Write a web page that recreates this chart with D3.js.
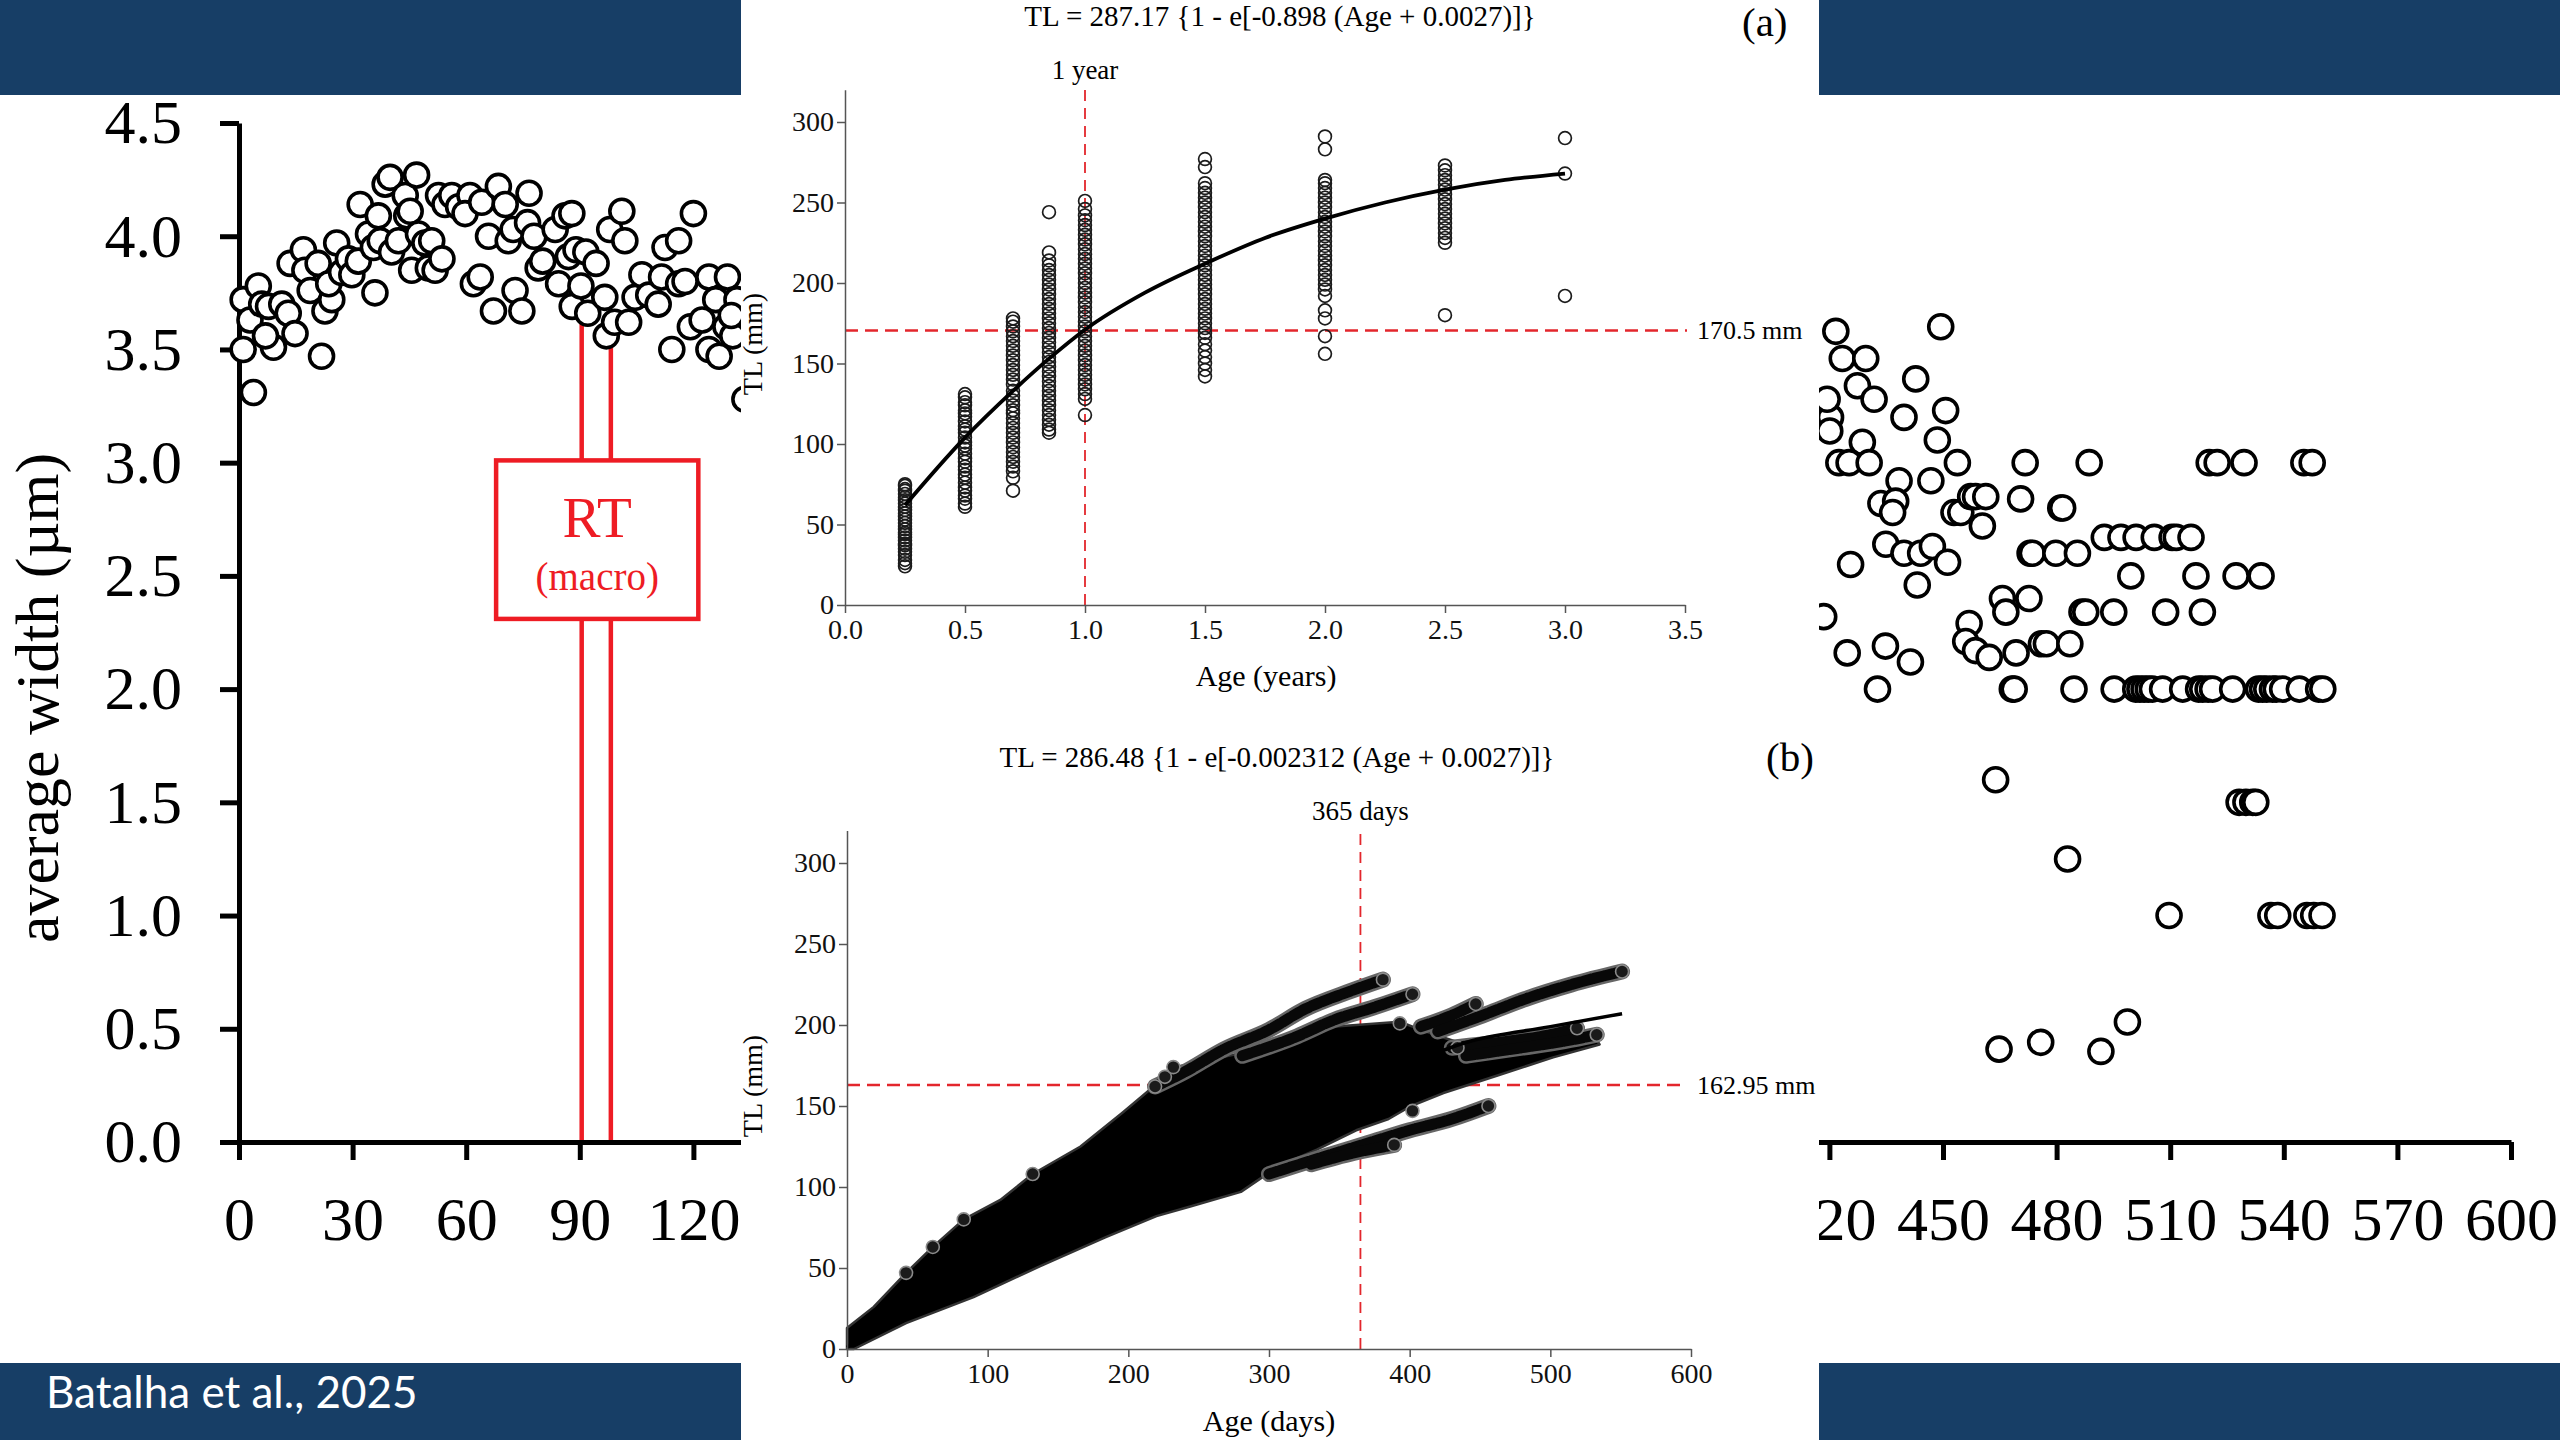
<!DOCTYPE html>
<html lang="en">
<head>
<meta charset="utf-8">
<title>Otolith increment width and growth</title>
<script src="https://cdn.jsdelivr.net/npm/d3@7/dist/d3.min.js"></script>
<style>
  html, body { margin: 0; padding: 0; background: #fff; }
  svg { display: block; }
</style>
</head>
<body>
<div id="chart"></div>
<script>
// ---- background chart: average increment width by age (days)
const widthXTicks = [0, 30, 60, 90, 120, 150, 180, 210, 240, 270, 300, 330, 360, 390, 420, 450, 480, 510, 540, 570, 600]
const widthYTicks = [0, 0.5, 1.0, 1.5, 2.0, 2.5, 3.0, 3.5, 4.0, 4.5]

// [age (days), width (um)] - only the parts left and right of the inset are visible
const widthEarly = [
  [1.1, 3.50], [3.8, 3.31], [1.1, 3.72], [5.1, 3.78], [2.9, 3.63], [6.0, 3.70], [7.8, 3.69], [9.1, 3.51],
  [7.0, 3.56], [11.3, 3.70], [13.0, 3.66], [14.8, 3.57], [13.5, 3.88], [17.0, 3.94], [17.4, 3.85], [18.8, 3.76],
  [20.9, 3.88], [22.7, 3.67], [21.8, 3.47], [24.5, 3.72], [23.7, 3.79], [25.8, 3.97], [27.1, 3.84], [28.9, 3.90],
  [29.8, 3.83], [31.5, 3.89], [32.0, 4.14], [34.2, 4.01], [35.9, 3.75], [35.5, 3.95], [36.8, 4.09], [37.3, 3.98],
  [38.6, 4.23], [39.9, 4.26], [40.3, 3.93], [42.1, 3.98], [43.9, 4.18], [44.3, 4.09], [45.2, 4.11], [46.9, 4.27],
  [45.6, 3.85], [47.4, 4.01], [49.1, 3.97], [50.9, 3.98], [50.0, 3.86], [51.8, 3.85], [53.6, 3.90], [52.7, 4.18],
  [54.4, 4.14], [56.2, 4.18], [58.0, 4.13], [61.0, 4.18], [59.7, 4.10], [61.9, 3.79], [63.7, 3.82], [64.1, 4.15],
  [65.9, 4.00], [67.2, 3.67], [68.5, 4.22], [70.3, 4.14], [71.1, 3.98], [72.4, 4.03], [72.9, 3.76], [74.7, 3.67],
  [76.2, 4.06], [76.6, 4.19], [77.9, 4.00], [79.0, 3.86], [80.2, 3.89], [83.5, 4.03], [84.4, 3.79], [86.1, 4.09],
  [87.9, 4.10], [87.0, 3.91], [89.0, 3.94], [88.0, 3.69], [90.3, 3.78], [91.6, 3.93], [92.1, 3.66], [94.3, 3.88],
  [96.6, 3.73], [97.0, 3.56], [99.2, 3.62], [97.9, 4.03], [101.1, 4.11], [101.9, 3.98], [102.9, 3.62], [104.6, 3.73],
  [106.4, 3.83], [108.2, 3.74], [110.7, 3.70], [111.6, 3.82], [112.5, 3.95], [114.3, 3.50], [116.1, 3.98], [116.1, 3.79],
  [117.8, 3.80], [119.2, 3.60], [120.0, 4.10], [122.3, 3.63], [124.1, 3.82], [124.1, 3.50], [125.9, 3.72], [126.8, 3.47],
  [128.6, 3.60], [129.0, 3.82], [130.4, 3.56], [131.5, 3.72], [130.0, 3.65], [133.6, 3.28]
]

const widthLate = [
  [421.7, 3.58], [423.4, 3.46], [429.6, 3.46], [427.4, 3.34], [431.8, 3.28], [420.3, 3.20], [419.4, 3.28], [420.1, 3.14],
  [428.7, 3.09], [442.8, 3.37], [439.7, 3.20], [449.4, 3.60], [450.7, 3.23], [448.5, 3.10], [422.5, 3.00], [425.2, 3.00],
  [430.5, 3.00], [453.8, 3.00], [471.7, 3.00], [488.6, 3.00], [520.3, 3.00], [522.4, 3.00], [529.5, 3.00], [545.3, 3.00],
  [547.5, 3.00], [438.4, 2.92], [446.8, 2.92], [433.6, 2.82], [437.5, 2.83], [436.7, 2.78], [452.9, 2.78], [454.7, 2.78],
  [457.3, 2.85], [458.6, 2.85], [461.3, 2.85], [470.5, 2.84], [481.1, 2.80], [481.6, 2.80], [460.4, 2.72], [434.9, 2.64],
  [439.7, 2.60], [444.1, 2.60], [447.2, 2.63], [451.2, 2.56], [425.6, 2.55], [443.2, 2.46], [473.0, 2.60], [473.6, 2.60],
  [479.8, 2.60], [485.5, 2.60], [492.6, 2.67], [497.0, 2.67], [501.0, 2.67], [505.8, 2.67], [510.5, 2.67], [511.6, 2.67],
  [515.5, 2.67], [499.6, 2.50], [516.8, 2.50], [527.4, 2.50], [534.0, 2.50], [465.7, 2.40], [472.7, 2.40], [466.6, 2.34],
  [486.7, 2.34], [487.7, 2.34], [495.1, 2.34], [508.8, 2.34], [518.5, 2.34], [418.5, 2.32], [456.9, 2.29], [456.0, 2.21],
  [458.6, 2.17], [462.2, 2.14], [469.3, 2.16], [476.0, 2.20], [477.3, 2.20], [483.5, 2.20], [424.7, 2.16], [434.8, 2.19],
  [441.4, 2.12], [432.7, 2.00], [468.3, 2.00], [468.8, 2.00], [484.6, 2.00], [495.2, 2.00], [500.9, 2.00], [502.0, 2.00],
  [503.1, 2.00], [504.2, 2.00], [505.3, 2.00], [508.0, 2.00], [513.3, 2.00], [517.5, 2.00], [518.6, 2.00], [520.0, 2.00],
  [521.2, 2.00], [526.5, 2.00], [533.3, 2.00], [534.4, 2.00], [535.5, 2.00], [537.0, 2.00], [538.0, 2.00], [539.7, 2.00],
  [544.1, 2.00], [549.2, 2.00], [550.3, 2.00], [463.9, 1.60], [528.2, 1.50], [530.0, 1.50], [531.8, 1.50], [532.6, 1.50],
  [482.9, 1.25], [509.7, 1.00], [536.6, 1.00], [538.4, 1.00], [546.1, 1.00], [547.9, 1.00], [550.1, 1.00], [464.8, 0.41],
  [475.8, 0.44], [491.7, 0.40], [498.7, 0.53]
]

// recruitment transition marks
const rtLines = [{ day: 90.5, top: 3.67 }, { day: 98.2, top: 3.51 }]
const rtBox = { day0: 67.9, day1: 121.3, w0: 2.31, w1: 3.01 }

// ---- inset (a): TL at age (years)
const ageYearTicks = [0, 0.5, 1.0, 1.5, 2.0, 2.5, 3.0, 3.5]
const tlTicks = [0, 50, 100, 150, 200, 250, 300]
const ageGroups = [0.25, 0.5, 0.7, 0.85, 1.0, 1.5, 2.0, 2.5, 3.0]
const tlAge025 = [24, 26, 28, 31, 33, 35, 37, 38, 40, 42, 44, 45, 47, 49, 51, 53, 55, 57, 59, 61, 63, 65, 67, 69, 71, 72, 74, 75]
const tlAge05 = [61, 63, 66, 68, 71, 73, 76, 79, 81, 84, 86, 89, 91, 94, 97, 99, 101, 104, 107, 109, 111, 114, 117, 119, 121, 124, 126, 129, 131]
const tlAge07 = [71, 79, 83, 86, 89, 92, 95, 98, 101, 104, 107, 110, 113, 116, 119, 121, 124, 127, 130, 133, 137, 140, 143, 146, 149, 152, 155, 158, 161, 164, 167, 170, 173, 176, 178]
const tlAge085 = [107, 109, 112, 115, 118, 121, 124, 127, 130, 133, 136, 139, 142, 145, 148, 151, 154, 157, 160, 163, 166, 169, 172, 175, 178, 181, 184, 187, 190, 193, 196, 199, 202, 205, 208, 211, 214, 219, 244]
const tlAge10 = [118, 128, 131, 134, 137, 140, 143, 146, 149, 152, 155, 158, 161, 164, 167, 170, 173, 176, 179, 182, 185, 188, 191, 194, 197, 200, 203, 206, 209, 212, 215, 218, 221, 224, 227, 230, 233, 236, 239, 242, 246, 251]
const tlAge15 = [142, 146, 150, 154, 158, 162, 166, 169, 172, 175, 178, 181, 184, 187, 190, 193, 196, 199, 202, 205, 208, 211, 214, 217, 220, 223, 226, 229, 232, 235, 238, 241, 244, 247, 250, 253, 256, 259, 262, 272, 277]
const tlAge20 = [156, 167, 178, 183, 192, 196, 199, 202, 205, 208, 211, 214, 217, 220, 223, 226, 229, 232, 235, 238, 241, 244, 247, 250, 253, 256, 259, 262, 264, 283, 291]
const tlAge25 = [180, 225, 228, 231, 234, 237, 240, 243, 246, 249, 252, 255, 258, 261, 264, 267, 270, 273]
const tlAge30 = [192, 268, 290]
const tlByGroup = [tlAge025, tlAge05, tlAge07, tlAge085, tlAge10, tlAge15, tlAge20, tlAge25, tlAge30]
// fitted growth curve [age, TL]
const fitA = [[0.25, 62], [0.5, 104], [0.7, 133], [0.85, 153], [1.0, 171], [1.25, 194], [1.5, 212], [1.75, 228], [2.0, 240], [2.25, 250], [2.5, 258], [2.75, 264], [3.0, 268]]
const refA = { age: 1.0, tl: 170.5 }

// ---- inset (b): back-calculated TL at age (days)
const ageDayTicks = [0, 100, 200, 300, 400, 500, 600]
const massUpper = [[0, 13], [19, 26], [42, 47], [61, 63], [83, 80], [109, 92], [132, 108], [166, 125], [196, 146], [218, 162], [232, 174], [245, 176], [282, 183], [307, 190], [330, 198], [362, 200], [393, 202], [408, 197], [432, 190], [475, 191], [529, 196], [535, 188]]
const massLower = [[502, 180], [463, 169], [424, 158], [401, 150], [385, 142], [362, 135], [334, 123], [307, 113], [280, 97], [244, 88], [220, 82], [184, 69], [137, 51], [90, 32], [42, 16], [5, 0], [0, 0]]
const bandTop = [[219, 162], [240, 171], [268, 185], [300, 197], [326, 210], [355, 220], [381, 228]]
const bandSecond = [[281, 181], [320, 193], [346, 203], [375, 211], [402, 219]]
const bandThird = [[408, 199], [430, 206], [447, 213]]
const bandLong = [[420, 196], [455, 207], [482, 216], [515, 225], [551, 233]]
const bandRight1 = [[430, 186], [470, 190], [500, 194], [519, 198]]
const bandRight2 = [[440, 181], [480, 186], [510, 190], [533, 194]]
const bandLow = [[300, 108], [340, 119], [370, 127], [400, 135], [430, 142], [456, 150]]
const bandLowShort = [[330, 114], [360, 121], [389, 126]]
const bandEnds = [[393, 201], [434, 186], [402, 147], [389, 126], [519, 198], [533, 194], [456, 150], [447, 213], [402, 219], [381, 228], [551, 233]]
const edgeMarks = [[42, 47], [61, 63], [83, 80], [132, 108], [219, 162], [226, 168], [232, 174]]
const fitB = [[0, 1], [100, 60], [200, 107], [300, 144], [365, 163], [443, 190], [500, 199], [551, 207]]
const refB = { age: 365, tl: 162.95 }

const serif = "'Liberation Serif', 'Times New Roman', serif"
const navy = '#173e66'
const red = '#ee1c24'
const dashRed = '#e3262c'

const svg = d3.select('#chart')
  .append('svg')
  .attr('width', 2560)
  .attr('height', 1440)
  .style('background', '#fff')

function text (g, x, y, str, size, anchor = 'middle', rotate = 0) {
  return g.append('text')
    .attr('transform', `translate(${x},${y}) rotate(${rotate})`)
    .attr('text-anchor', anchor)
    .attr('font-family', serif)
    .attr('font-size', size)
    .attr('fill', '#000')
    .text(str)
}

function drawWidthChart () {
  const x = d3.scaleLinear().domain([0, 600]).range([239, 2511])
  const y = d3.scaleLinear().domain([0, 4.5]).range([1142, 123])
  const g = svg.append('g').classed('width-chart', true)

  const ax = g.append('g')
    .attr('transform', `translate(0,${y(0)})`)
    .call(d3.axisBottom(x).tickValues(widthXTicks).tickFormat(d3.format('d'))
      .tickSize(18).tickPadding(36).tickSizeOuter(0))
  const ay = g.append('g')
    .attr('transform', `translate(${x(0)},0)`)
    .call(d3.axisLeft(y).tickValues(widthYTicks).tickFormat(d3.format('.1f'))
      .tickSize(19).tickPadding(38).tickSizeOuter(0))

  ;[ax, ay].forEach((a) => {
    a.attr('font-family', serif).attr('font-size', 62)
    a.selectAll('path, line').attr('stroke', '#000').attr('stroke-width', 5)
    a.selectAll('text').attr('fill', '#000')
  })

  text(g, 58, 698, 'average width (µm)', 62, 'middle', -90)

  g.selectAll('.rt-line')
    .data(rtLines)
    .enter()
    .append('line')
    .attr('class', 'rt-line')
    .attr('x1', (d) => x(d.day))
    .attr('x2', (d) => x(d.day))
    .attr('y1', (d) => y(d.top))
    .attr('y2', y(0) - 2)
    .attr('stroke', red)
    .attr('stroke-width', 4.5)

  g.append('g')
    .selectAll('circle')
    .data(widthEarly.concat(widthLate))
    .enter()
    .append('circle')
    .attr('cx', (d) => x(d[0]))
    .attr('cy', (d) => y(d[1]))
    .attr('r', 12)
    .attr('fill', '#fff')
    .attr('stroke', '#000')
    .attr('stroke-width', 3.6)

  g.append('rect')
    .attr('x', x(rtBox.day0))
    .attr('y', y(rtBox.w1))
    .attr('width', x(rtBox.day1) - x(rtBox.day0))
    .attr('height', y(rtBox.w0) - y(rtBox.w1))
    .attr('fill', '#fff')
    .attr('stroke', red)
    .attr('stroke-width', 4.5)

  const cx = (x(rtBox.day0) + x(rtBox.day1)) / 2
  text(g, cx, 537, 'RT', 57).attr('fill', red)
  text(g, cx, 590, '(macro)', 39).attr('fill', red)
}

function panelAxes (g, xs, ys, xTicks, xFormat) {
  const ax = g.append('g')
    .attr('transform', `translate(0,${ys(0)})`)
    .call(d3.axisBottom(xs).tickValues(xTicks).tickFormat(xFormat)
      .tickSize(8).tickPadding(6).tickSizeOuter(0))
  const ay = g.append('g')
    .attr('transform', `translate(${xs(0)},0)`)
    .call(d3.axisLeft(ys).tickValues(tlTicks).tickFormat(d3.format('d'))
      .tickSize(8).tickPadding(3).tickSizeOuter(0))

  ;[ax, ay].forEach((a) => {
    a.attr('font-family', serif).attr('font-size', 28)
    a.selectAll('path, line').attr('stroke', '#555').attr('stroke-width', 1.5)
    a.selectAll('text').attr('fill', '#111')
  })
}

function refLines (g, xs, ys, ref, xEnd, label, vLabel, vLabelY) {
  g.append('line')
    .attr('x1', xs(0)).attr('x2', xEnd)
    .attr('y1', ys(ref.tl)).attr('y2', ys(ref.tl))
    .attr('stroke', dashRed).attr('stroke-width', 2.5)
    .attr('stroke-dasharray', '13,7')
  g.append('line')
    .attr('x1', xs(ref.age)).attr('x2', xs(ref.age))
    .attr('y1', ys(0)).attr('y2', ys(320) - 3)
    .attr('stroke', dashRed).attr('stroke-width', 1.8)
    .attr('stroke-dasharray', '11,7')

  text(g, xEnd + 10, ys(ref.tl) + 9, label, 26, 'start')
  text(g, xs(ref.age), vLabelY, vLabel, 27)
}

function drawPanelA () {
  const g = svg.append('g').classed('panel-a', true)
  const xs = d3.scaleLinear().domain([0, 3.5]).range([845, 1685])
  const ys = d3.scaleLinear().domain([0, 320]).range([605, 89.8])

  refLines(g, xs, ys, refA, 1687, '170.5 mm', '1 year', 79)
  panelAxes(g, xs, ys, ageYearTicks, d3.format('.1f'))

  const pts = []
  ageGroups.forEach((age, i) => {
    tlByGroup[i].forEach((tl) => pts.push([age, tl]))
  })

  g.append('g')
    .selectAll('circle')
    .data(pts)
    .enter()
    .append('circle')
    .attr('cx', (d) => xs(d[0]))
    .attr('cy', (d) => ys(d[1]))
    .attr('r', 6.4)
    .attr('fill', 'none')
    .attr('stroke', '#1c1c1c')
    .attr('stroke-width', 1.7)

  g.append('path')
    .datum(fitA)
    .attr('d', d3.line().x((d) => xs(d[0])).y((d) => ys(d[1])).curve(d3.curveMonotoneX))
    .attr('fill', 'none')
    .attr('stroke', '#000')
    .attr('stroke-width', 3.8)

  text(g, 1280, 26, 'TL = 287.17 {1 - e[-0.898 (Age + 0.0027)]}', 29)
  text(g, 1742, 36, '(a)', 41, 'start')
  text(g, 1266, 686, 'Age (years)', 30)
  text(g, 762, 344, 'TL (mm)', 28, 'middle', -90)
}

function drawPanelB () {
  const g = svg.append('g').classed('panel-b', true)
  const xs = d3.scaleLinear().domain([0, 600]).range([847, 1691])
  const ys = d3.scaleLinear().domain([0, 320]).range([1349, 830.6])
  const line = d3.line().x((d) => xs(d[0])).y((d) => ys(d[1]))
  const smooth = d3.line().x((d) => xs(d[0])).y((d) => ys(d[1])).curve(d3.curveMonotoneX)

  refLines(g, xs, ys, refB, 1687, '162.95 mm', '365 days', 820)

  g.append('path')
    .datum(massUpper.concat(massLower))
    .attr('d', (d) => line(d) + 'Z')
    .attr('fill', '#000')
    .attr('stroke', '#333')
    .attr('stroke-width', 2.5)
    .attr('stroke-linejoin', 'round')

  const bands = [bandTop, bandSecond, bandThird, bandLong, bandRight1, bandRight2, bandLow, bandLowShort]

  g.append('g')
    .selectAll('path')
    .data(bands)
    .enter()
    .append('path')
    .attr('d', smooth)
    .attr('fill', 'none')
    .attr('stroke', '#666')
    .attr('stroke-width', 16)
    .attr('stroke-linecap', 'round')

  g.append('g')
    .selectAll('path')
    .data(bands)
    .enter()
    .append('path')
    .attr('d', smooth)
    .attr('fill', 'none')
    .attr('stroke', '#080808')
    .attr('stroke-width', 11)
    .attr('stroke-linecap', 'round')
    .attr('stroke-dasharray', '9,2')

  g.append('g')
    .selectAll('circle')
    .data(bandEnds.concat(edgeMarks))
    .enter()
    .append('circle')
    .attr('cx', (d) => xs(d[0]))
    .attr('cy', (d) => ys(d[1]))
    .attr('r', 6.5)
    .attr('fill', '#1a1a1a')
    .attr('stroke', '#8a8a8a')
    .attr('stroke-width', 1.6)

  g.append('path')
    .datum(fitB)
    .attr('d', smooth)
    .attr('fill', 'none')
    .attr('stroke', '#000')
    .attr('stroke-width', 3.5)

  panelAxes(g, xs, ys, ageDayTicks, d3.format('d'))

  text(g, 1277, 767, 'TL = 286.48 {1 - e[-0.002312 (Age + 0.0027)]}', 29)
  text(g, 1766, 771, '(b)', 41, 'start')
  text(g, 1269, 1431, 'Age (days)', 30)
  text(g, 762, 1086, 'TL (mm)', 28, 'middle', -90)
}

function drawFrame () {
  svg.append('rect')
    .attr('x', 741).attr('y', 0)
    .attr('width', 1078).attr('height', 1440)
    .attr('fill', '#fff')

  const bars = [
    { x: 0, y: 0, w: 741, h: 95 },
    { x: 1819, y: 0, w: 741, h: 95 },
    { x: 0, y: 1363, w: 741, h: 77 },
    { x: 1819, y: 1363, w: 741, h: 77 }
  ]
  svg.selectAll('.bar')
    .data(bars)
    .enter()
    .append('rect')
    .attr('class', 'bar')
    .attr('x', (d) => d.x)
    .attr('y', (d) => d.y)
    .attr('width', (d) => d.w)
    .attr('height', (d) => d.h)
    .attr('fill', navy)

  svg.append('text')
    .attr('x', 46)
    .attr('y', 1408)
    .attr('font-family', "Lato, 'Open Sans', sans-serif")
    .attr('font-size', 44)
    .attr('fill', '#fff')
    .text('Batalha et al., 2025')
}

drawWidthChart()
drawFrame()
drawPanelA()
drawPanelB()
</script>
</body>
</html>
